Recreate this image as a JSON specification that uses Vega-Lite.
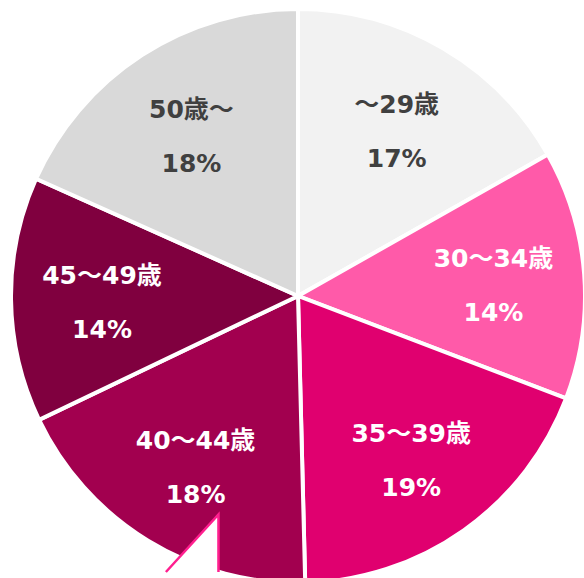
{
  "$schema": "https://vega.github.io/schema/vega-lite/v6.json",
  "width": 584,
  "height": 578,
  "autosize": {"type": "fit", "contains": "padding"},
  "padding": {"left": 12, "top": 14, "right": 0, "bottom": 0},
  "background": "white",
  "view": {"stroke": null},
  "datasets": {
    "pie": [
      {"i": 1, "age": "～29歳", "value": 16.8, "label": "～29歳\n17%"},
      {"i": 2, "age": "30～34歳", "value": 14.0, "label": "30～34歳\n14%"},
      {"i": 3, "age": "35～39歳", "value": 18.8, "label": "35～39歳\n19%"},
      {"i": 4, "age": "40～44歳", "value": 18.3, "label": "40～44歳\n18%"},
      {"i": 5, "age": "45～49歳", "value": 13.8, "label": "45～49歳\n14%"},
      {"i": 6, "age": "50歳～", "value": 18.3, "label": "50歳～\n18%"}
    ],
    "callout": [
      {"k": 1, "cx": -47.0, "cy": -99.65, "cy2": -99.65},
      {"k": 2, "cx": -28.3, "cy": -78.9, "cy2": -99.65}
    ],
    "calloutEdge": [
      {"k": 1, "cx": -47.0, "cy": -99.65},
      {"k": 2, "cx": -28.3, "cy": -78.9},
      {"k": 3, "cx": -28.3, "cy": -99.65}
    ]
  },
  "layer": [
    {
      "data": {"name": "pie"},
      "mark": {"type": "arc", "outerRadius": 287, "stroke": "white", "strokeWidth": 4},
      "encoding": {
        "theta": {"field": "value", "type": "quantitative", "stack": true},
        "order": {"field": "i", "type": "quantitative"},
        "color": {
          "field": "age",
          "type": "nominal",
          "scale": {
            "domain": ["～29歳", "30～34歳", "35～39歳", "40～44歳", "45～49歳", "50歳～"],
            "range": ["#f2f2f2", "#ff5aa9", "#e0006f", "#a2004f", "#80003f", "#d9d9d9"]
          },
          "legend": null
        }
      }
    },
    {
      "data": {"name": "pie"},
      "mark": {"type": "text", "radius": 196, "dy": -22, "font": "DejaVu Sans, Noto Sans CJK JP", "fontSize": 25, "fontWeight": "bold", "lineBreak": "\n", "lineHeight": 54, "align": "center", "baseline": "middle"},
      "encoding": {
        "theta": {"field": "value", "type": "quantitative", "stack": true},
        "order": {"field": "i", "type": "quantitative"},
        "text": {"field": "label"},
        "color": {
          "condition": {"test": "datum.age === '～29歳' || datum.age === '50歳～'", "value": "#404040"},
          "value": "#ffffff"
        }
      }
    },
    {
      "data": {"name": "callout"},
      "mark": {"type": "area", "orient": "vertical", "fill": "#ffffff", "opacity": 1},
      "encoding": {
        "x": {"field": "cx", "type": "quantitative", "scale": {"domain": [-100.7, 100.7], "nice": false, "zero": false}, "axis": null},
        "y": {"field": "cy", "type": "quantitative", "scale": {"domain": [-99.65, 99.65], "nice": false, "zero": false}, "axis": null},
        "y2": {"field": "cy2"}
      }
    },
    {
      "data": {"name": "calloutEdge"},
      "mark": {"type": "line", "color": "#ff1f8f", "strokeWidth": 2.5},
      "encoding": {
        "x": {"field": "cx", "type": "quantitative", "scale": {"domain": [-100.7, 100.7], "nice": false, "zero": false}, "axis": null},
        "y": {"field": "cy", "type": "quantitative", "scale": {"domain": [-99.65, 99.65], "nice": false, "zero": false}, "axis": null},
        "order": {"field": "k", "type": "quantitative"}
      }
    }
  ]
}
